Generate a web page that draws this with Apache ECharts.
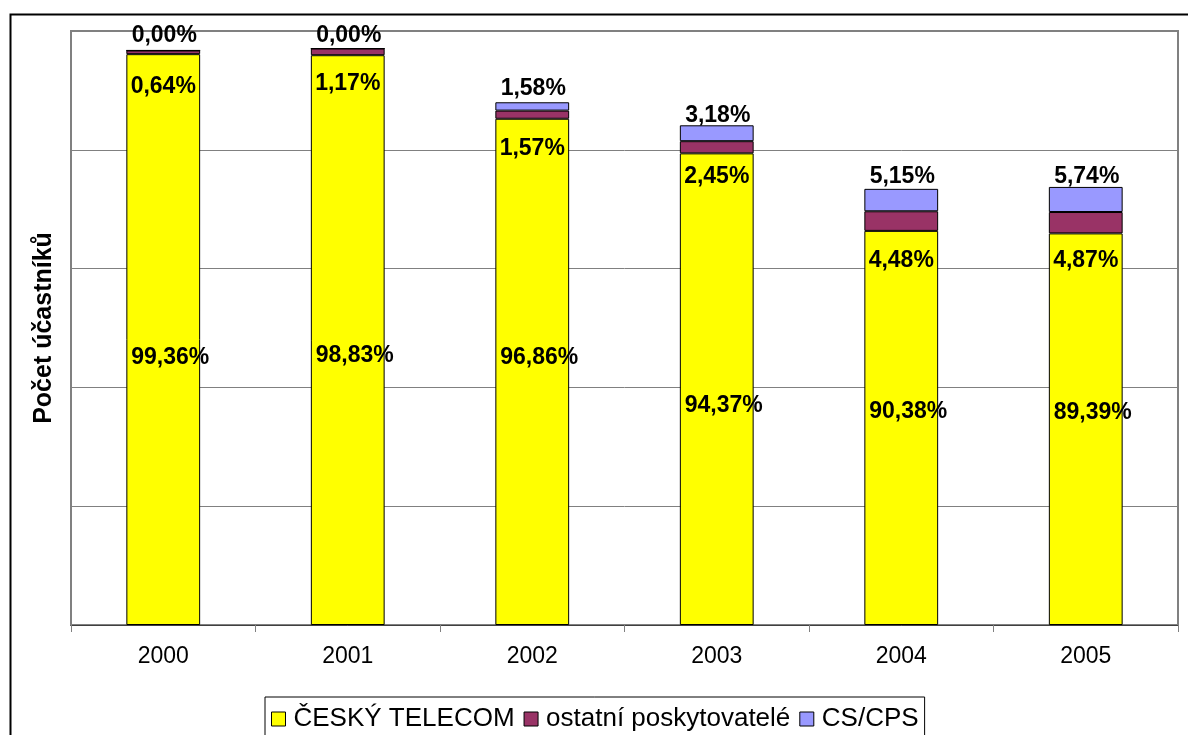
<!DOCTYPE html>
<html>
<head>
<meta charset="utf-8">
<script src="https://cdn.jsdelivr.net/npm/echarts@6/dist/echarts.min.js"></script>
<style>html,body{margin:0;padding:0;background:#fff;}#c{width:1188px;height:735px;}</style>
</head>
<body>
<div id="c"></div>
<script>
// Data (subscriber counts, thousands)
var years = ['2000', '2001', '2002', '2003', '2004', '2005'];
var seriesNames = ['ČESKÝ TELECOM', 'ostatní poskytovatelé', 'CS/CPS'];
var telecom = [3844, 3837, 3409, 3176, 2654, 2637];
var ostatni = [25, 45, 55, 82, 132, 144];
var cscps = [0, 0, 56, 107, 151, 169];
// Percentage labels as printed in the chart
var telecomPct = ['99,36%', '98,83%', '96,86%', '94,37%', '90,38%', '89,39%'];
var ostatniPct = ['0,64%', '1,17%', '1,57%', '2,45%', '4,48%', '4,87%'];
var cscpsPct = ['0,00%', '0,00%', '1,58%', '3,18%', '5,15%', '5,74%'];

// label placement tweaks (styling only)
var telecomDy = [18, 16, -14, 16, -16, -17];
var ostatniDy = [4, 0, 1, -5, 1, -1];
var cscpsDy = [-1, 1, 0, 4, 1, 3];

var FONT = 'Liberation Sans, Arial, sans-serif';
var labelBase = { show: true, color: '#000', fontWeight: 'bold', fontSize: 23, fontFamily: FONT };

function items(vals, pcts, dys, dx) {
  return vals.map(function (v, i) {
    return { value: v, label: { formatter: pcts[i], offset: [dx, dys[i]] } };
  });
}

var chart = echarts.init(document.getElementById('c'), null, { renderer: 'canvas' });
chart.setOption({
  animation: false,
  backgroundColor: '#fff',
  graphic: [{
    type: 'rect', left: 8, top: 12, silent: true,
    shape: { width: 1300, height: 900 },
    style: { fill: 'none', stroke: '#000', lineWidth: 2 }
  }],
  grid: {
    left: 71, right: 10, top: 31, bottom: 110,
    show: true, borderColor: '#808080', borderWidth: 2, backgroundColor: 'transparent'
  },
  legend: {
    data: seriesNames,
    left: 265, top: 697,
    orient: 'horizontal',
    itemWidth: 14, itemHeight: 14, itemGap: 9,
    icon: 'rect',
    borderColor: '#000', borderWidth: 1,
    padding: [9, 6, 30, 6],
    textStyle: { color: '#000', fontSize: 26, fontFamily: FONT, padding: [0, 0, 0, 3] },
    itemStyle: { borderColor: '#000', borderWidth: 1 }
  },
  xAxis: {
    type: 'category',
    data: years,
    axisLine: { show: true, lineStyle: { color: '#404040', width: 1 } },
    axisTick: { show: true, alignWithLabel: false, length: 7, lineStyle: { color: '#808080', width: 1 } },
    axisLabel: { color: '#000', fontSize: 23, fontFamily: FONT, margin: 20 }
  },
  yAxis: {
    type: 'value',
    min: 0, max: 4000, interval: 800,
    name: 'Počet účastníků',
    nameLocation: 'middle',
    nameRotate: 90,
    nameGap: 14,
    nameTextStyle: { color: '#000', fontSize: 25, fontWeight: 'bold', fontFamily: FONT },
    axisLine: { show: true, lineStyle: { color: '#808080', width: 2 } },
    axisTick: { show: false },
    axisLabel: { show: false },
    splitLine: { show: true, lineStyle: { color: '#808080', width: 1 } }
  },
  series: [
    {
      name: seriesNames[0], type: 'bar', stack: 'total', barWidth: '40%',
      itemStyle: { color: '#FFFF00', borderColor: '#000', borderWidth: 1 },
      label: Object.assign({}, labelBase, { position: 'inside' }),
      data: items(telecom, telecomPct, telecomDy, 7)
    },
    {
      name: seriesNames[1], type: 'bar', stack: 'total', barWidth: '40%',
      itemStyle: { color: '#993366', borderColor: '#000', borderWidth: 1 },
      label: Object.assign({}, labelBase, { position: 'bottom', distance: 17 }),
      data: items(ostatni, ostatniPct, ostatniDy, 0)
    },
    {
      name: seriesNames[2], type: 'bar', stack: 'total', barWidth: '40%',
      itemStyle: { color: '#9999FF', borderColor: '#000', borderWidth: 1 },
      label: Object.assign({}, labelBase, { position: 'top', distance: 2 }),
      data: items(cscps, cscpsPct, cscpsDy, 1)
    }
  ]
});
</script>
</body>
</html>
